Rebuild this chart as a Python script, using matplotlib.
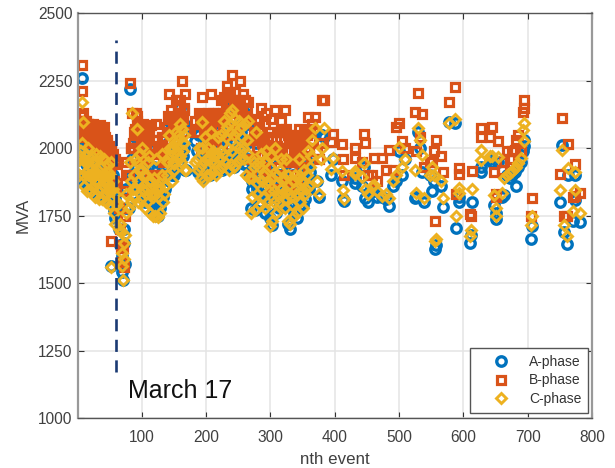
import matplotlib
matplotlib.use('Agg')
import matplotlib.pyplot as plt

plt.rcParams['font.family'] = ['Liberation Sans', 'DejaVu Sans']

# nth event in groups of ten
event = [
    2, 4, 5, 6, 7, 7, 8, 10, 11, 12,
    14, 15, 17, 18, 20, 21, 23, 24, 26, 27,
    29, 30, 32, 33, 35, 36, 38, 39, 41, 42,
    44, 45, 47, 48, 50, 51, 53, 54, 56, 57,
    59, 52, 62, 64, 66, 68, 69, 70, 71, 72,
    73, 74, 75, 76, 80, 82, 84, 85, 87, 89,
    91, 93, 95, 97, 99, 101, 103, 105, 107, 109,
    111, 113, 115, 117, 119, 121, 123, 125, 127, 129,
    131, 133, 135, 137, 139, 141, 143, 145, 147, 149,
    151, 153, 155, 157, 159, 161, 162, 164, 165, 167,
    169, 183, 186, 189, 192, 194, 196, 199, 201, 204,
    206, 208, 210, 213, 215, 218, 220, 223, 225, 228,
    230, 232, 235, 237, 239, 241, 243, 245, 247, 249,
    251, 253, 255, 258, 260, 262, 265, 267, 270, 272,
    274, 276, 278, 280, 282, 284, 286, 289, 291, 293,
    295, 297, 299, 301, 303, 305, 307, 309, 311, 314,
    316, 318, 320, 323, 325, 327, 329, 331, 333, 335,
    337, 339, 341, 344, 346, 348, 350, 353, 355, 358,
    360, 363, 365, 369, 372, 375, 378, 381, 383, 395,
    398, 411, 413, 414, 431, 432, 442, 445, 447, 452,
    458, 461, 466, 474, 480, 484, 490, 496, 500, 505,
    510, 525, 527, 529, 533, 536, 539, 548, 552, 555,
    556, 558, 566, 569, 577, 587, 589, 593, 593, 611,
    612, 613, 627, 628, 642, 644, 647, 650, 651, 654,
    660, 663, 668, 673, 676, 680, 682, 685, 689, 693,
    694, 695, 705, 706, 751, 753, 757, 761, 763, 771,
    773, 774, 781,
    # events inside the packed clusters
    9, 13, 16, 19, 22, 25, 28, 31, 34, 37,
    40, 43, 46, 49, 52, 55, 58, 61, 3, 16,
    22, 28, 34, 40, 46,
    84, 88, 92, 96, 100, 104, 108, 112, 116, 120,
    124, 128, 132, 136, 140, 144, 148, 152, 156, 160,
    164, 86, 94, 102, 110, 118, 126, 150, 158, 166,
    187, 190, 193, 197, 200, 203, 207, 211, 214, 217,
    221, 224, 227, 231, 234, 238, 240, 244, 248, 252,
    256, 259, 263, 266, 236,
    271, 275, 279, 283, 287, 290, 294, 298, 302, 306,
    310, 315, 317, 321, 324, 328, 332, 336, 340, 343,
    347, 351, 354, 357, 361, 292, 300, 312, 322, 338,
]
a_phase = [
    2020, 2000, 1990, 2050, 2262, 2090, 2040, 1960, 1900, 1990,
    1940, 1860, 1990, 1900, 1950, 1850, 1960, 1870, 1930, 1830,
    1950, 1880, 1920, 1820, 1940, 1860, 1900, 1820, 1930, 1850,
    1910, 1820, 1920, 1860, 1920, 1820, 1950, 1830, 1900, 1770,
    1740, 1565, 1760, 1700, 1640, 1640, 1600, 1540, 1510, 1700,
    1650, 1570, 1780, 1850, 1780, 2218, 1900, 1960, 1880, 2040,
    1900, 2060, 1850, 2000, 1850, 2040, 1900, 1800, 1950, 1830,
    2000, 1800, 1900, 1760, 1930, 1770, 1950, 1750, 1900, 1780,
    1980, 1820, 1860, 1900, 1950, 2020, 2100, 2060, 1900, 2050,
    1960, 2100, 2000, 2060, 2150, 1980, 2100, 2060, 2090, 1920,
    1920, 2025, 1990, 2050, 1900, 1980, 1890, 2040, 1920, 1970,
    1900, 2050, 1930, 1990, 1910, 2060, 1930, 2000, 1920, 2100,
    1950, 2060, 1930, 2150, 1950, 2100, 1930, 2140, 2000, 1950,
    2090, 1960, 2060, 2000, 2130, 1940, 2090, 1900, 1780, 1850,
    1960, 1770, 2020, 1860, 1940, 1800, 1970, 1850, 1760, 1950,
    1820, 1900, 1740, 1960, 1715, 1830, 1990, 1760, 1900, 1780,
    1980, 1850, 1900, 1800, 1940, 1720, 1850, 1700, 1800, 1900,
    1760, 1860, 1740, 1940, 1790, 1880, 1790, 1900, 1850, 1950,
    1850, 1960, 2030, 2060, 1880, 1820, 2050, 2050, 2040, 1900,
    1960, 1880, 1810, 1805, 1870, 1890, 1860, 1930, 1815, 1800,
    1840, 1840, 1820, 1820, 1810, 1784, 1860, 1880, 1990, 1900,
    1960, 1815, 1820, 2060, 2000, 1910, 1800, 1900, 1840, 1880,
    1627, 1640, 1860, 1782, 2098, 2092, 1704, 1800, 1820, 1650,
    1680, 1799, 1910, 1930, 1960, 1950, 1790, 1738, 1760, 1950,
    1820, 1827, 1900, 1890, 1900, 1910, 1861, 1930, 1950, 1990,
    2030, 2010, 1665, 1710, 1799, 2012, 1690, 1646, 1901, 1730,
    1809, 1900, 1727,
    1880, 1900, 1880, 1880, 1890, 1890, 1880, 1860, 1880, 1920,
    1880, 1860, 1860, 1850, 1850, 1840, 1810, 1780, 1890, 1940,
    1930, 1860, 1830, 1850, 1920,
    1860, 1880, 1930, 1900, 1900, 1880, 1840, 1860, 1810, 1810,
    1830, 1830, 1880, 1850, 1930, 1980, 1930, 2000, 2030, 1950,
    1970, 1830, 1860, 1830, 1930, 1800, 1800, 1900, 1940, 2000,
    1910, 1920, 1990, 1930, 1940, 1990, 1930, 1980, 1930, 1960,
    1940, 2040, 1960, 2030, 1980, 2050, 1970, 2030, 2050, 1980,
    2020, 1940, 2020, 1960, 2080,
    1880, 1910, 1850, 1930, 1860, 1880, 1850, 1820, 1870, 1820,
    1850, 1900, 1830, 1870, 1820, 1880, 1800, 1860, 1810, 1870,
    1820, 1860, 1810, 1880, 1910, 1930, 1910, 1810, 1790, 1880,
]
b_phase = [
    2090, 2100, 2070, 2120, 2310, 2212, 2130, 2100, 2040, 2090,
    2100, 2050, 2090, 2030, 2070, 2020, 2080, 2040, 2060, 2010,
    2080, 2030, 2050, 2000, 2085, 2030, 2040, 1990, 2080, 2020,
    2010, 1960, 1980, 1940, 1950, 1900, 1990, 1940, 1960, 1880,
    1950, 1655, 1870, 1780, 1700, 1630, 1640, 1580, 1630, 1560,
    1840, 1750, 1900, 1950, 1900, 2240, 2000, 2130, 2000, 2070,
    2130, 2120, 2000, 2080, 1960, 2060, 2000, 1900, 2080, 1960,
    2060, 1900, 2085, 1850, 2000, 1900, 2090, 1900, 2000, 1900,
    2040, 1950, 1960, 1990, 2060, 2120, 2200, 2140, 2000, 2100,
    2060, 2180, 2090, 2130, 2180, 2100, 2250, 2110, 2150, 2200,
    2060, 2100, 2060, 2130, 2000, 2190, 2000, 2120, 2020, 2060,
    2000, 2200, 2040, 2120, 2030, 2130, 2050, 2120, 2020, 2190,
    2080, 2230, 2050, 2160, 2100, 2270, 2060, 2210, 2130, 2080,
    2180, 2250, 2130, 2200, 2180, 2100, 2170, 2030, 1900, 1960,
    2080, 1960, 2110, 2000, 2060, 1950, 2150, 2000, 1920, 2130,
    1960, 2040, 1900, 2110, 1850, 1980, 2140, 1880, 2060, 1930,
    2100, 2000, 2060, 2140, 2070, 1880, 2020, 1860, 1950, 2050,
    1900, 2000, 1880, 2070, 1920, 2040, 1950, 2060, 1990, 2115,
    2000, 2030, 2090, 2115, 1990, 1960, 2020, 2180, 2178, 2023,
    2053, 2016, 1960, 1900, 2000, 1962, 1950, 2053, 2020, 1900,
    1900, 1963, 1880, 1963, 1920, 1994, 1920, 2080, 2095, 2025,
    2000, 2135, 1990, 2203, 2040, 2125, 1930, 1950, 1950, 1989,
    1730, 2031, 1972, 1910, 2171, 2225, 1830, 1926, 1905, 1757,
    1748, 1914, 2074, 2040, 2040, 2080, 1910, 1820, 1830, 2027,
    1920, 1950, 1990, 1960, 1990, 1994, 2030, 2050, 1990, 2135,
    2178, 2150, 1750, 1815, 1904, 2111, 1750, 1750, 2016, 1820,
    1824, 1942, 1834,
    2060, 2070, 2075, 2060, 2060, 2090, 2050, 2030, 2040, 2060,
    2050, 2040, 2030, 2010, 1990, 1980, 1960, 1940, 2050, 2090,
    2040, 2020, 2060, 2070, 2020,
    2000, 2060, 2100, 2050, 2040, 2020, 2050, 2080, 1980, 2030,
    2030, 2010, 2040, 2000, 2080, 2110, 2050, 2100, 2160, 2130,
    2120, 2020, 2050, 2090, 2070, 2000, 1990, 2030, 2100, 2140,
    2060, 2100, 2120, 2060, 2090, 2130, 2080, 2130, 2070, 2110,
    2100, 2180, 2130, 2170, 2140, 2200, 2140, 2180, 2170, 2140,
    2150, 2100, 2150, 2110, 2210,
    2030, 2060, 2000, 2100, 2020, 2040, 2000, 1980, 2030, 1990,
    2010, 2060, 2000, 2030, 1990, 2050, 1960, 2010, 1950, 2020,
    1990, 2020, 1960, 2050, 2070, 2090, 2060, 1980, 1950, 2030,
]
c_phase = [
    1955, 1970, 1930, 1990, 2170, 2020, 2097, 1960, 1860, 1950,
    1980, 1840, 2000, 1880, 1930, 1840, 1970, 1860, 1950, 1820,
    1980, 1870, 1920, 1810, 1970, 1850, 1890, 1810, 1960, 1830,
    1900, 1800, 1910, 1840, 1900, 1790, 1950, 1810, 1880, 1760,
    1720, 1560, 1790, 1700, 1720, 1690, 1610, 1565, 1510, 1590,
    1650, 1680, 1760, 1830, 1780, 1950, 1800, 2130, 1820, 1960,
    1850, 2070, 1800, 1980, 1810, 2000, 1840, 1780, 1900, 1800,
    1970, 1760, 1880, 1750, 1890, 1750, 1960, 1745, 1860, 1760,
    1980, 1800, 1830, 1860, 1900, 1950, 2050, 1990, 1880, 2000,
    1940, 2060, 1990, 2030, 2090, 1950, 2070, 2020, 2050, 1920,
    1920, 1950, 1960, 2000, 1890, 2097, 1880, 2040, 1900, 1960,
    1900, 2060, 1910, 1980, 1900, 2040, 1920, 1990, 1930, 2100,
    1950, 2080, 1920, 2130, 1940, 2140, 1930, 2110, 2010, 1950,
    2100, 1960, 2080, 2000, 2090, 1900, 2100, 1890, 1760, 1820,
    1950, 1770, 2060, 1830, 1930, 1790, 1980, 1820, 1780, 1990,
    1800, 1880, 1710, 1970, 1730, 1800, 2000, 1760, 1900, 1800,
    1960, 1830, 1880, 1780, 1960, 1730, 1830, 1720, 1790, 1880,
    1750, 1850, 1760, 1960, 1800, 1880, 1780, 1920, 1850, 1990,
    1860, 1970, 2030, 2075, 1880, 1830, 1960, 2000, 2075, 1922,
    1963, 1914, 1846, 1811, 1905, 1914, 1895, 1945, 1850, 1830,
    1860, 1865, 1840, 1821, 1830, 1815, 1880, 1900, 2006, 1930,
    1960, 1920, 1834, 2074, 2031, 1975, 1815, 1900, 1932, 1900,
    1655, 1665, 1877, 1815, 2092, 2110, 1748, 1852, 1834, 1674,
    1698, 1849, 1994, 1957, 1970, 1972, 1828, 1748, 1778, 1967,
    1834, 1889, 1900, 1908, 1915, 1925, 1930, 1945, 1963, 2068,
    2092, 2025, 1714, 1748, 1844, 1994, 1714, 1674, 1926, 1766,
    1844, 1910, 1760,
    1900, 1910, 1900, 1900, 1900, 1910, 1900, 1870, 1900, 1930,
    1900, 1880, 1870, 1860, 1860, 1850, 1830, 1800, 1900, 1950,
    1950, 1880, 1840, 1860, 1940,
    1880, 1900, 1950, 1920, 1920, 1900, 1850, 1880, 1830, 1830,
    1850, 1850, 1900, 1860, 1950, 2000, 1950, 2020, 2050, 1970,
    1990, 1850, 1880, 1850, 1950, 1820, 1820, 1920, 1960, 2020,
    1920, 1930, 2000, 1950, 1960, 2000, 1950, 1990, 1950, 1980,
    1960, 2050, 1980, 2040, 2000, 2060, 1990, 2050, 2060, 2000,
    2040, 1960, 2030, 1980, 2090,
    1890, 1930, 1870, 1950, 1880, 1900, 1870, 1840, 1890, 1840,
    1870, 1920, 1850, 1890, 1840, 1900, 1820, 1880, 1830, 1890,
    1840, 1880, 1830, 1900, 1930, 1950, 1930, 1830, 1810, 1900,
]
marker_line_x = [60, 60]
marker_line_y = [1170, 2400]

fig = plt.figure(figsize=(6.15, 4.68), dpi=100)
ax = fig.add_axes([78 / 615, 1 - 418 / 468, (592 - 78) / 615, (418 - 13.3) / 468])

ax.plot(event, a_phase, 'o', ms=6.8, mew=2.4, mfc='none', mec='#0072BD', label='A-phase')
ax.plot(event, b_phase, 's', ms=5.2, mew=2.3, mfc='none', mec='#D95319', label='B-phase')
ax.plot(event, c_phase, 'D', ms=5.6, mew=2.1, mfc='none', mec='#EDB120', label='C-phase')
ax.plot(marker_line_x, marker_line_y, color='#1B3A73', lw=1.9, dashes=(4.6, 3.2))
ax.text(79, 1074, 'March 17', fontsize=18, color='#111111')

ax.set_xlim(1, 800)
ax.set_ylim(1000, 2500)
ax.set_xticks(range(100, 801, 100))
ax.set_yticks(range(1000, 2501, 250))
ax.grid(True, color='#e4e4e4', lw=1.1)
ax.set_axisbelow(True)
ax.tick_params(direction='in', top=True, right=True, length=4, width=0.8, color='#333333',
               labelcolor='#404040', labelsize=11.2, pad=4)
ax.tick_params(axis='x', pad=8.5)
for side in ax.spines.values():
    side.set_color('#555555')
    side.set_linewidth(1.0)
ax.spines['left'].set_color('#999999')
ax.spines['left'].set_linewidth(1.6)
ax.spines['right'].set_color('#999999')
ax.spines['right'].set_linewidth(1.6)
ax.set_xlabel('nth event', fontsize=12.2, color='#404040', labelpad=5)
ax.set_ylabel('MVA', fontsize=12.2, color='#404040', labelpad=5)

leg = ax.legend(loc='lower right', bbox_to_anchor=(0.9925, 0.0125), borderaxespad=0, fontsize=10,
                fancybox=False, framealpha=1, edgecolor='#555555', labelspacing=0.33,
                handlelength=3.45, handletextpad=0.3, borderpad=0.5, labelcolor='#333333',
                numpoints=1)
leg.get_frame().set_linewidth(1.0)

fig.savefig('out.png', dpi=100)
